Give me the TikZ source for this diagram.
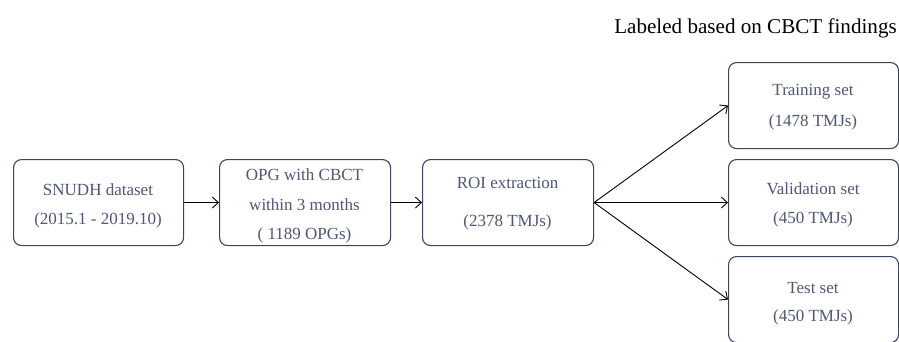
\documentclass[tikz,border=0pt]{standalone}
\usepackage{fontspec}
\setmainfont{Liberation Serif}
\usetikzlibrary{arrows.meta}
\definecolor{boxline}{HTML}{3C4560}
\definecolor{boxtext}{HTML}{4E5775}
\tikzset{
  stagebox/.style={draw=boxline, line width=1.1pt, rounded corners=8pt, fill=white,
    minimum width=#1, minimum height=86pt, inner sep=0pt, anchor=north west},
  stagebox/.default=171pt,
  stagetext/.style={text=boxtext, font=\fontsize{17}{20}\selectfont, inner sep=0pt, anchor=center},
  flow/.style={draw=black, line width=0.9pt, -{Straight Barb[length=6pt,width=11pt,line width=0.9pt]}}
}
\begin{document}
\begin{tikzpicture}[x=1pt, y=-1pt]
  \useasboundingbox (0,0) rectangle (899,341);

  % title
  \node[font=\fontsize{21.1}{25}\selectfont, inner sep=0pt, anchor=center] (title) at (755.5,28) {Labeled based on CBCT findings};

  % stage boxes
  \node[stagebox=170pt] (snudh) at (13,159) {};
  \node[stagebox=171pt] (opg) at (219,159) {};
  \node[stagebox=171pt] (roi) at (422,159) {};
  \node[stagebox=170pt] (train) at (728,62) {};
  \node[stagebox=170pt] (valid) at (728,159) {};
  \node[stagebox=170pt] (test) at (728,256) {};

  % box texts
  \node[stagetext] (snudh1) at (98,190) {SNUDH dataset};
  \node[stagetext] (snudh2) at (98,220) {(2015.1 - 2019.10)};
  \node[stagetext] (opg1) at (304.5,175) {OPG with CBCT};
  \node[stagetext] (opg2) at (304.5,205) {within 3 months};
  \node[stagetext] (opg3) at (304.5,235) {( 1189 OPGs)};
  \node[stagetext] (roi1) at (507.5,183) {ROI extraction};
  \node[stagetext] (roi2) at (507.5,222) {(2378 TMJs)};
  \node[stagetext] (train1) at (813,92) {Training set};
  \node[stagetext] (train2) at (813,122) {(1478 TMJs)};
  \node[stagetext] (valid1) at (813,189) {Validation set};
  \node[stagetext] (valid2) at (813,219) {(450 TMJs)};
  \node[stagetext] (test1) at (813,288) {Test set};
  \node[stagetext] (test2) at (813,317) {(450 TMJs)};

  % connectors
  \draw[flow] (snudh.east) -- (opg.west);
  \draw[flow] (opg.east) -- (roi.west);
  \draw[flow] (roi.east) -- (train.west);
  \draw[flow] (roi.east) -- (valid.west);
  \draw[flow] (roi.east) -- (test.west);
\end{tikzpicture}
\end{document}
